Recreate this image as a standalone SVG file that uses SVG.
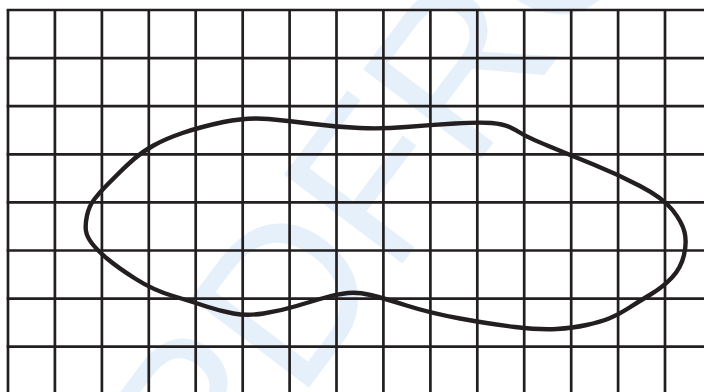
<svg xmlns="http://www.w3.org/2000/svg" width="704" height="392" viewBox="0 0 704 392">
  <style>
    .grid line { stroke: #231f20; stroke-width: 2.7; }
    .outline { fill: none; stroke: #231f20; stroke-width: 4.4; stroke-linejoin: round; stroke-linecap: round; }
    .wm { fill: #e6f0fa; font-family: "Liberation Sans", Arial, sans-serif; font-weight: normal; font-size: 215px; }
  </style>
  <rect width="704" height="392" fill="#ffffff"/>
  <g id="watermark">
    <text class="wm" transform="translate(212,516) rotate(-53)">PDFRO</text>
  </g>
  <g id="grid" class="grid">
    <line x1="8" y1="10" x2="8" y2="392"/>
    <line x1="54.9" y1="10" x2="54.9" y2="392"/>
    <line x1="101.9" y1="10" x2="101.9" y2="392"/>
    <line x1="148.8" y1="10" x2="148.8" y2="392"/>
    <line x1="195.7" y1="10" x2="195.7" y2="392"/>
    <line x1="242.7" y1="10" x2="242.7" y2="392"/>
    <line x1="289.6" y1="10" x2="289.6" y2="392"/>
    <line x1="336.5" y1="10" x2="336.5" y2="392"/>
    <line x1="383.4" y1="10" x2="383.4" y2="392"/>
    <line x1="430.4" y1="10" x2="430.4" y2="392"/>
    <line x1="477.3" y1="10" x2="477.3" y2="392"/>
    <line x1="524.2" y1="10" x2="524.2" y2="392"/>
    <line x1="571.2" y1="10" x2="571.2" y2="392"/>
    <line x1="618.1" y1="10" x2="618.1" y2="392"/>
    <line x1="665" y1="10" x2="665" y2="392"/>
    <line x1="6.7" y1="10" x2="704" y2="10"/>
    <line x1="6.7" y1="58.1" x2="704" y2="58.1"/>
    <line x1="6.7" y1="106.2" x2="704" y2="106.2"/>
    <line x1="6.7" y1="154.3" x2="704" y2="154.3"/>
    <line x1="6.7" y1="202.4" x2="704" y2="202.4"/>
    <line x1="6.7" y1="250.5" x2="704" y2="250.5"/>
    <line x1="6.7" y1="298.6" x2="704" y2="298.6"/>
    <line x1="6.7" y1="346.7" x2="704" y2="346.7"/>
  </g>
  <g id="shape">
    <path class="outline" d="M 87,215.5 Q 89,206 94.5,199 Q 100,192 107,185 Q 114,178 120,172 Q 126,166 134,159 Q 142,152 153.5,145.5 Q 165,139 182.5,133 Q 200,127 223.5,122 Q 247,117 268.5,119 Q 290,121 313.5,124 Q 337,127 359.5,128 Q 382,129 406,127 Q 430,125 455,123.5 Q 480,122 491.5,123 Q 503,124 509.5,127 Q 516,130 521.5,133.5 Q 527,137 548.5,146 Q 570,155 593.5,164.5 Q 617,174 640,186 Q 663,198 672.5,210 Q 682,222 684.5,232 Q 687,242 684,255 Q 681,268 672,277.5 Q 663,287 650.5,294.5 Q 638,302 628,308.5 Q 618,315 609,318.5 Q 600,322 586.5,325 Q 573,328 556.5,329 Q 540,330 515,327 Q 490,324 460,318.5 Q 430,313 406.5,305.5 Q 383,298 370.5,295 Q 358,292 348,293 Q 338,294 325.5,297.5 Q 313,301 296.5,306 Q 280,311 263.5,313.5 Q 247,316 233.5,313.5 Q 220,311 206.5,306.5 Q 193,302 173,296 Q 153,290 135,278.5 Q 117,267 107,258.5 Q 97,250 92,243.5 Q 87,237 86,231 Q 85,225 87,215.5 Z"/>
  </g>
</svg>
